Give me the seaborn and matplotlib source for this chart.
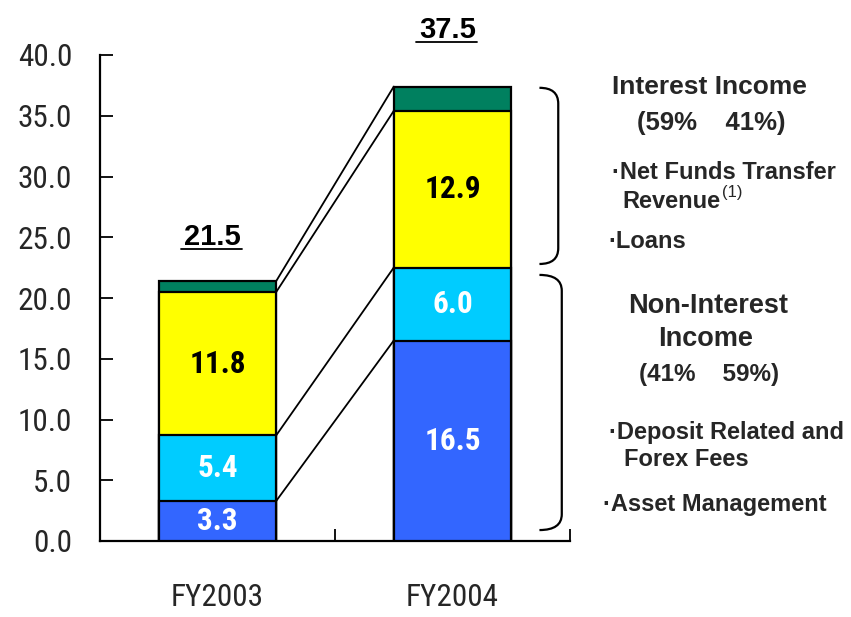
import matplotlib
matplotlib.use("Agg")
import matplotlib.pyplot as plt
import matplotlib.font_manager as fm
from matplotlib.path import Path
from matplotlib.patches import PathPatch
import numpy as np
import pandas as pd
import seaborn as sns

# ---- data ----
years = ["FY2003", "FY2004"]
asset_mgmt = [3.3, 16.5]      # blue
deposit_fx = [5.4, 6.0]       # cyan
net_funds = [11.8, 12.9]      # yellow
loans = [0.9, 2.0]            # green
total_labels = ["21.5", "37.5"]
yticks = [0, 5, 10, 15, 20, 25, 30, 35, 40]

sns.set_theme(style="white")
plt.rcParams["font.family"] = ["Liberation Sans", "DejaVu Sans"]

# find a condensed face if one exists
cands = []
for f in fm.fontManager.ttflist:
    nm = f.name.lower()
    st = str(f.stretch).lower()
    if "narrow" in nm or "condensed" in nm or "condensed" in st:
        cands.append(f)
def pick(bold):
    best = None
    for f in cands:
        w = f.weight if isinstance(f.weight, int) else (700 if "bold" in str(f.weight) else 400)
        isbold = w >= 600
        if isbold == bold and "italic" not in str(f.style).lower() and "oblique" not in str(f.style).lower():
            pri = 0 if "liberation" in f.name.lower() else (1 if "roboto" in f.name.lower() else 2)
            if best is None or pri < best[0]:
                best = (pri, f)
    return best[1] if best else None
fr = pick(False)
fb = pick(True)
narrow_props = fm.FontProperties(fname=fr.fname) if fr is not None else fm.FontProperties(family="Liberation Sans")
narrow_bold_props = (fm.FontProperties(fname=fb.fname) if fb is not None
                     else fm.FontProperties(family="Liberation Sans", weight="bold"))
is_narrow = fr is not None

fig = plt.figure(figsize=(8.51, 6.17), dpi=100)
ax = fig.add_axes([100/851, 1-541/617, 470/851, 486/617])

layers = [asset_mgmt, deposit_fx, net_funds, loans]
colors = ["#3366FF", "#00CCFF", "#FFFF00", "#00805F"]
cum = np.cumsum(np.array(layers), axis=0)  # 4 x 2

for i in range(3, -1, -1):
    df = pd.DataFrame({"year": years, "val": cum[i]})
    sns.barplot(data=df, x="year", y="val", color=colors[i], width=0.5,
                edgecolor="black", linewidth=1.6, saturation=1, ax=ax, zorder=2 + (3 - i))

for i in range(4):
    ax.plot([0.25, 0.75], [cum[i][0], cum[i][1]], color="black", lw=1.3, zorder=1)

lab_size = 22.5 if is_narrow else 20
tick_size = 22.5 if is_narrow else 20
txtcol = ["white", "white", "black", None]
for i in range(3):
    for j in range(2):
        bottom = cum[i][j] - layers[i][j]
        fp = narrow_bold_props.copy()
        fp.set_size(lab_size)
        ax.text(j, bottom + layers[i][j] / 2, f"{layers[i][j]:.1f}", ha="center", va="center",
                fontproperties=fp, color=txtcol[i], zorder=10)

offs = [3.0, 4.0]
for j in range(2):
    y = cum[3][j] + offs[j]
    ax.text(j - 0.02, y, total_labels[j], ha="center", va="baseline", fontsize=21,
            fontweight="bold", color="black", clip_on=False)
    ax.plot([j - 0.155, j + 0.105], [y - 0.35, y - 0.35], color="black", lw=1.3, clip_on=False)

def brace(x0, x1, ytop, ybot, r):
    verts = [(x0, ytop), (x1, ytop), (x1, ytop - r), (x1, ybot + r), (x1, ybot), (x0, ybot)]
    codes = [Path.MOVETO, Path.CURVE3, Path.CURVE3, Path.LINETO, Path.CURVE3, Path.CURVE3]
    ax.add_patch(PathPatch(Path(verts, codes), fill=False, lw=1.6, edgecolor="black", clip_on=False))

brace(1.37, 1.45, cum[3][1] - 0.1, cum[1][1] + 0.3, 1.3)
brace(1.37, 1.465, cum[1][1] - 0.6, 0.9, 1.3)

ax.set_ylim(0, 40)
ax.set_xlim(-0.5, 1.5)
ax.set_yticks(yticks)
ax.set_xticks([0, 1])
ax.set_xticks([0.5, 1.5], minor=True)
tfp = narrow_props.copy()
tfp.set_size(tick_size)
ax.set_yticklabels([f"{v:.1f}" for v in yticks], fontproperties=tfp)
ax.set_xticklabels(years, fontproperties=tfp)
ax.set_xlabel("")
ax.set_ylabel("")
ax.tick_params(axis="y", direction="in", length=9, width=1.3, color="black", pad=20, left=True)
ax.tick_params(axis="x", which="major", length=0, pad=30, bottom=True)
ax.tick_params(axis="x", which="minor", direction="in", length=9, width=1.3, color="black", bottom=True)
for s in ["top", "right"]:
    ax.spines[s].set_visible(False)
for s in ["left", "bottom"]:
    ax.spines[s].set_color("black")
    ax.spines[s].set_linewidth(1.6)
ax.patch.set_alpha(0)

def ftext(px, py, s, size, ha="left", weight="bold"):
    fig.text(px / 851, 1 - py / 617, s, ha=ha, va="center", fontsize=size, fontweight=weight,
             family=["Liberation Sans", "DejaVu Sans"])

ftext(709, 87, "Interest Income", 19, ha="center")
ftext(711, 123, "(59%    41%)", 18.5, ha="center")
ftext(612, 172, "·Net Funds Transfer", 17)
ftext(622, 201, "Revenue", 17)
ftext(722, 193, "(1)", 12, weight="normal")
ftext(608, 242, "·Loans", 17)
ftext(708, 306, "Non-Interest", 19.5, ha="center")
ftext(706, 339, "Income", 19.5, ha="center")
ftext(709, 375, "(41%    59%)", 17.5, ha="center")
ftext(609, 432, "·Deposit Related and", 17)
ftext(624, 459, "Forex Fees", 17)
ftext(603, 504, "·Asset Management", 17)

fig.savefig("out.png", dpi=100, facecolor="white")
